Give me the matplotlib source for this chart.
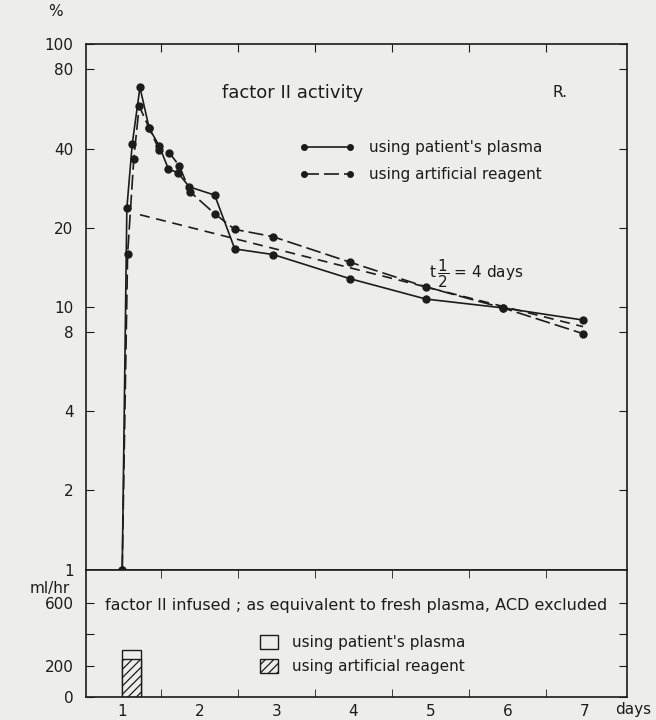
import matplotlib.pyplot as plt
from matplotlib.lines import Line2D
from matplotlib.patches import Patch
from matplotlib.ticker import NullLocator

# factor II activity (%) by day
days_plasma = [1.0, 1.06, 1.13, 1.23, 1.35, 1.48, 1.60, 1.72, 1.87, 2.20, 2.46, 2.96, 3.95, 4.94, 5.94, 6.98]
act_plasma = [1.0, 23.7, 41.6, 68.4, 47.8, 40.9, 33.4, 32.4, 28.6, 26.6, 16.6, 15.8, 12.8, 10.7, 9.9, 8.9]

days_reagent = [1.0, 1.07, 1.15, 1.22, 1.35, 1.48, 1.61, 1.74, 1.88, 2.20, 2.46, 2.95, 3.95, 4.94, 5.94, 6.98]
act_reagent = [1.0, 15.9, 36.5, 58.1, 47.8, 39.5, 38.6, 34.4, 27.4, 22.6, 19.7, 18.5, 14.8, 11.9, 9.9, 7.9]

# fitted decay line, t 1/2 = 4 days
days_half = [1.23, 6.98]
act_half = [22.4, 8.4]

# factor II infused (ml/hr)
infused_day = [1.0]
infused_plasma = [300]
infused_reagent = [240]

act_ticks = [1, 2, 4, 8, 10, 20, 40, 80, 100]
ml_ticks = [0, 200, 400, 600]
ml_labels = ['0', '200', '', '600']
day_labels = [1, 2, 3, 4, 5, 6, 7]
day_marks = [1.5, 2.5, 3.5, 4.5, 5.5, 6.5]

bg = '#ededeb'
ink = '#1c1c1c'
plt.rcParams['font.family'] = 'DejaVu Sans'
plt.rcParams['mathtext.fontset'] = 'dejavusans'
plt.rcParams['axes.linewidth'] = 1.2
plt.rcParams['axes.edgecolor'] = ink
plt.rcParams['text.color'] = ink
plt.rcParams['xtick.color'] = ink
plt.rcParams['ytick.color'] = ink
plt.rcParams['hatch.linewidth'] = 0.9

fig = plt.figure(figsize=(6.56, 7.2), dpi=100, facecolor=bg)
ax = fig.add_axes([0.1311, 0.209, 0.8247, 0.7299], facecolor=bg)
ax2 = fig.add_axes([0.1311, 0.0319, 0.8247, 0.1771], facecolor=bg)

# upper panel: activity curves
ax.plot(days_plasma, act_plasma, '-', color=ink, lw=1.2, marker='o', ms=5)
ax.plot(days_reagent, act_reagent, color=ink, lw=1.2, marker='o', ms=5,
        dashes=(9, 3))
ax.plot(days_half, act_half, color=ink, lw=1.2, dashes=(6, 4))

ax.set_yscale('log')
ax.set_ylim(1, 100)
ax.set_xlim(0.53, 7.55)
ax.set_yticks(act_ticks)
ax.set_yticklabels([str(t) for t in act_ticks])
ax.yaxis.set_minor_locator(NullLocator())
ax.set_xticks(day_marks)
ax.tick_params(axis='y', direction='in', length=6, left=True, right=True,
               pad=9, labelsize=11)
ax.tick_params(axis='x', direction='in', length=6, top=True, bottom=False,
               labelbottom=False)

ax.text(0.2514, 0.9068, 'factor II activity', transform=ax.transAxes,
        fontsize=13, va='center')
ax.text(0.863, 0.9068, 'R.', transform=ax.transAxes, fontsize=11, va='center')
ax.text(0.634, 0.564, r't$\,\dfrac{1}{2}$ = 4 days', transform=ax.transAxes,
        fontsize=11, va='center')
ax.text(-0.057, 1.061, '%', transform=ax.transAxes, fontsize=11,
        ha='center', va='center')

handles = [Line2D([], [], color=ink, lw=1.2, marker='o', ms=4),
           Line2D([], [], color=ink, lw=1.2, marker='o', ms=4, dashes=(9, 3))]
ax.legend(handles, ["using patient's plasma", 'using artificial reagent'],
          loc='upper left', bbox_to_anchor=(0.38, 0.832), frameon=False,
          numpoints=2, handlelength=3.6, handletextpad=1.0, borderpad=0,
          labelspacing=0.8, fontsize=11)

# lower panel: amount infused
ax2.bar(infused_day, infused_plasma, width=0.25, align='edge',
        facecolor=bg, edgecolor=ink, lw=1.0)
ax2.bar(infused_day, infused_reagent, width=0.25, align='edge',
        facecolor=bg, edgecolor=ink, lw=1.0, hatch='////')

ax2.set_xlim(0.53, 7.55)
ax2.set_ylim(0, 810)
ax2.set_yticks(ml_ticks)
ax2.set_yticklabels(ml_labels)
ax2.set_xticks(day_labels)
ax2.set_xticks(day_marks, minor=True)
ax2.tick_params(axis='y', direction='in', length=6, left=True, right=True,
                pad=9, labelsize=11)
ax2.tick_params(axis='x', which='major', length=0, pad=5, labelsize=11)
ax2.tick_params(axis='x', which='minor', direction='in', length=6,
                top=True, bottom=True)

ax2.text(0.5, 0.72, 'factor II infused ; as equivalent to fresh plasma, ACD excluded',
         transform=ax2.transAxes, fontsize=11.5, ha='center', va='center')
ax2.text(-0.0665, 0.855, 'ml/hr', transform=ax2.transAxes, fontsize=11,
         ha='center', va='center')
ax2.text(0.978, -0.04, 'days', transform=ax2.transAxes, fontsize=11,
         ha='left', va='top')

box_handles = [Patch(facecolor=bg, edgecolor=ink, lw=1.0),
               Patch(facecolor=bg, edgecolor=ink, lw=1.0, hatch='////')]
ax2.legend(box_handles, ["using patient's plasma", 'using artificial reagent'],
           loc='upper left', bbox_to_anchor=(0.307, 0.545), frameon=False,
           handlelength=1.2, handleheight=1.0, handletextpad=0.9,
           borderpad=0, labelspacing=0.6, fontsize=11)

plt.savefig('out.png', dpi=100, facecolor=bg)
